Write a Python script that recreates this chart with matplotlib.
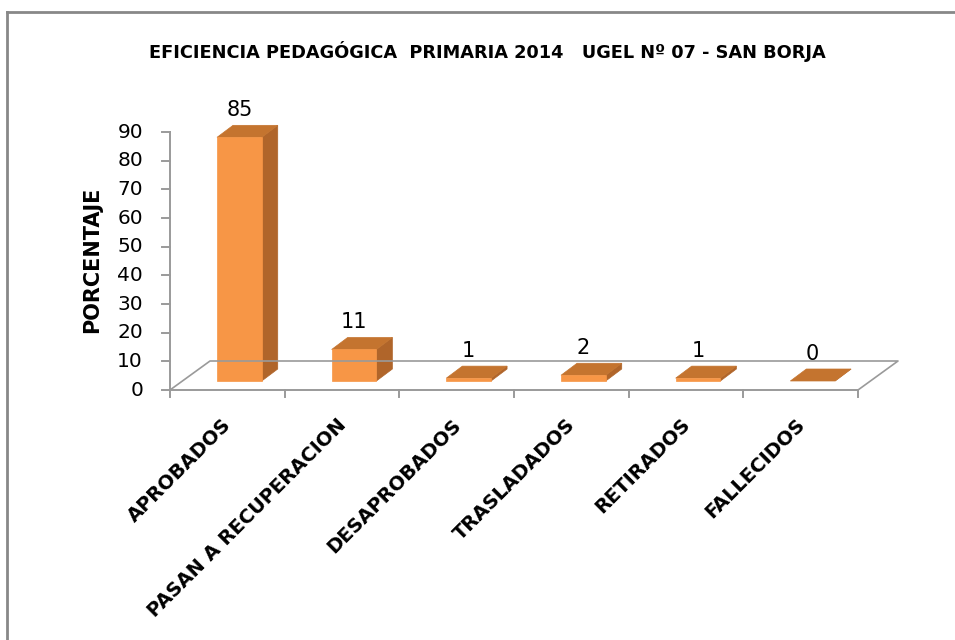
import matplotlib.pyplot as plt
from matplotlib.patches import Polygon, Rectangle
from matplotlib.lines import Line2D

categories = ["APROBADOS", "PASAN A RECUPERACION", "DESAPROBADOS",
              "TRASLADADOS", "RETIRADOS", "FALLECIDOS"]
values = [85, 11, 1, 2, 1, 0]
yticks = [0, 10, 20, 30, 40, 50, 60, 70, 80, 90]

title = "EFICIENCIA PEDAGÓGICA  PRIMARIA 2014   UGEL Nº 07 - SAN BORJA"
ylabel = "PORCENTAJE"

FRONT = "#F79646"
SIDE = "#B0652A"
TOP = "#C4742F"
AXIS = "#9A9A9A"

plt.rcParams["font.family"] = ["DejaVu Sans"]

W, H = 955, 640
fig = plt.figure(figsize=(W / 100, H / 100), dpi=100)

# axes placed in pixel terms: x 170..858, y 132..390 (from top)
ax = fig.add_axes([170 / W, (H - 390) / H, 688 / W, 258 / H])
ax.set_xlim(0, 6)
ax.set_ylim(0, 90)
ax.axis("off")

px_x = 688 / 6.0      # pixels per category
px_y = 258 / 90.0     # pixels per unit

# floor depth and bar depth, in data units
fdx, fdy = 40 / px_x, 29 / px_y
bdx, bdy = 16 / px_x, 12 / px_y
b0 = 9 / px_y          # bar front face sits a bit behind the front edge
bl, br = 0.41, 0.80

# chart border: only top and left edges fall inside the image
fig.add_artist(Line2D([7 / W, 7 / W], [0, 1 - 12 / H], transform=fig.transFigure,
                      color="#888888", lw=2))
fig.add_artist(Line2D([7 / W, 1], [1 - 12 / H, 1 - 12 / H], transform=fig.transFigure,
                      color="#888888", lw=2))

# floor outline
ax.plot([0, fdx, 6 + fdx, 6], [0, fdy, fdy, 0], color=AXIS, lw=1.2, clip_on=False)
ax.plot([0, 6], [0, 0], color=AXIS, lw=1.4, clip_on=False)
# y axis
ax.plot([0, 0], [0, 90], color=AXIS, lw=1.4, clip_on=False)
for t in yticks:
    ax.plot([-8 / px_x, 0], [t, t], color=AXIS, lw=1.4, clip_on=False)
    ax.text(-27 / px_x, t, str(t), ha="right", va="center", fontsize=14.5)
for i in range(7):
    ax.plot([i, i], [0, -7 / px_y], color=AXIS, lw=1.4, clip_on=False)

# bars
for i, v in enumerate(values):
    x0, x1 = i + bl, i + br
    y0, y1 = b0, b0 + v
    ax.add_patch(Polygon([(x1, y0), (x1 + bdx, y0 + bdy), (x1 + bdx, y1 + bdy), (x1, y1)],
                         closed=True, facecolor=SIDE, edgecolor=SIDE, lw=0.5, clip_on=False))
    ax.add_patch(Polygon([(x0, y1), (x1, y1), (x1 + bdx, y1 + bdy), (x0 + bdx, y1 + bdy)],
                         closed=True, facecolor=TOP, edgecolor=TOP, lw=0.5, clip_on=False))
    if v > 0:
        ax.add_patch(Rectangle((x0, y0), x1 - x0, v, facecolor=FRONT,
                               edgecolor=FRONT, lw=0.5, clip_on=False))
    ax.annotate(str(v), xy=((x0 + x1) / 2, y1), xytext=(0, 19.5),
                textcoords="offset points", ha="center", va="center",
                fontsize=15, annotation_clip=False)

# category labels
for i, c in enumerate(categories):
    ax.annotate(c, xy=(i + 0.5, 0), xytext=(-4, -18), textcoords="offset points",
                ha="right", va="top", rotation=45, rotation_mode="anchor",
                fontsize=14, fontweight="bold", annotation_clip=False)

fig.text(92 / W, 1 - 260 / H, ylabel, rotation=90, ha="center", va="center",
         fontsize=15, fontweight="bold")
fig.text(487 / W, 1 - 51 / H, title, ha="center", va="center",
         fontsize=12.8, fontweight="bold")

fig.savefig("out.png", dpi=100)
